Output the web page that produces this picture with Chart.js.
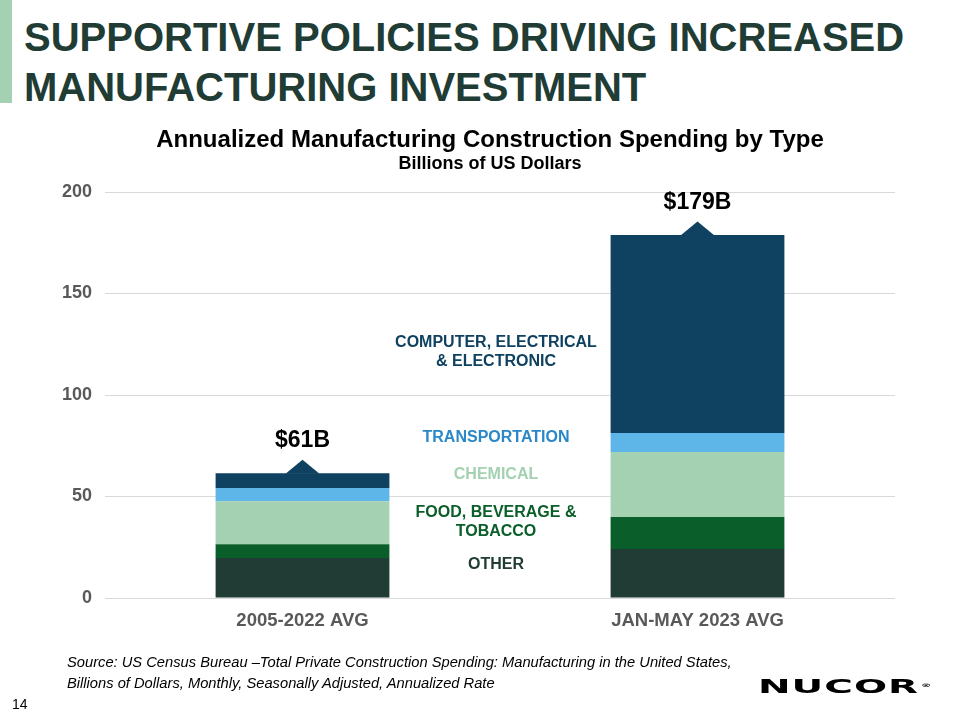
<!DOCTYPE html>
<html>
<head>
<meta charset="utf-8">
<script src="https://cdn.jsdelivr.net/npm/chart.js@4.4.1/dist/chart.umd.min.js"></script>
<style>
  html, body { margin:0; padding:0; background:#fff; }
  body { width:960px; height:720px; position:relative; overflow:hidden; font-family:"Liberation Sans", Arial, sans-serif; }
  #accent { position:absolute; left:0; top:0; width:12px; height:103px; background:#a3d1b1; }
  #headline { position:absolute; left:24px; top:12px; margin:0; font-size:40px; line-height:50px; font-weight:bold; color:#203c34; white-space:nowrap; }
  #wrap { position:absolute; left:0; top:0; width:960px; height:720px; }
  .ctitle { position:absolute; left:0; width:980px; text-align:center; font-weight:bold; color:#000; white-space:nowrap; }
  #ctitle { top:125px; font-size:24px; line-height:28px; }
  #csub { top:152px; font-size:18px; line-height:22px; }
  #source { position:absolute; left:67px; top:651px; font-style:italic; font-size:15px; line-height:21px; color:#000; transform-origin:left top; transform:scaleX(0.98); white-space:nowrap; }
  #page { position:absolute; left:12px; top:696px; font-size:14px; color:#000; }
  #logo { position:absolute; left:758px; top:675px; font-family:"DejaVu Sans", sans-serif; font-weight:bold; font-size:19px; line-height:22px; color:#000; transform-origin:left top; transform:scaleX(2.05); letter-spacing:0.5px; white-space:nowrap; }
  #logo sup { font-size:5px; vertical-align:top; position:relative; top:-1px; letter-spacing:0; margin-left:1px; }
</style>
</head>
<body>
<div id="accent"></div>
<h1 id="headline">SUPPORTIVE POLICIES DRIVING INCREASED<br>MANUFACTURING INVESTMENT</h1>
<div id="wrap"><canvas id="c" width="960" height="720"></canvas></div>
<div class="ctitle" id="ctitle">Annualized Manufacturing Construction Spending by Type</div>
<div class="ctitle" id="csub">Billions of US Dollars</div>
<div id="source">Source: US Census Bureau –Total Private Construction Spending: Manufacturing in the United States,<br>Billions of Dollars, Monthly, Seasonally Adjusted, Annualized Rate</div>
<div id="page">14</div>
<div id="logo">NUCOR<sup>®</sup></div>
<script>
// ---- data ----
const categories = ['2005-2022 AVG', 'JAN-MAY 2023 AVG'];
const seriesNames = ['OTHER', 'FOOD, BEVERAGE & TOBACCO', 'CHEMICAL', 'TRANSPORTATION', 'COMPUTER, ELECTRICAL & ELECTRONIC'];
const otherValues = [19.7, 24.1];
const foodValues = [6.8, 15.8];
const chemicalValues = [21.2, 32.0];
const transportationValues = [6.5, 9.4];
const computerValues = [7.3, 97.5];
const totalLabels = ['$61B', '$179B'];
const yTicks = [0, 50, 100, 150, 200];

const seriesColors = ['#203c34', '#0a5e2a', '#a3d1b1', '#5db5e8', '#0f4160'];
const allValues = [otherValues, foodValues, chemicalValues, transportationValues, computerValues];

// in-chart series labels (text lines, colour, y value of line centre)
const seriesLabelLines = [
  { text: 'COMPUTER, ELECTRICAL', color: '#0f4160', y: 125.6 },
  { text: '& ELECTRONIC', color: '#0f4160', y: 116.3 },
  { text: 'TRANSPORTATION', color: '#2a88c8', y: 78.8 },
  { text: 'CHEMICAL', color: '#a3d1b1', y: 60.6 },
  { text: 'FOOD, BEVERAGE &', color: '#0a5e2a', y: 41.9 },
  { text: 'TOBACCO', color: '#0a5e2a', y: 32.5 },
  { text: 'OTHER', color: '#203c34', y: 16.3 }
];

const FONT = '"Liberation Sans", Arial, sans-serif';

const annotate = {
  id: 'annotate',
  afterDatasetsDraw(chart) {
    const ctx = chart.ctx;
    const x = chart.scales.x, y = chart.scales.y;
    ctx.save();
    categories.forEach((c, i) => {
      let total = 0;
      allValues.forEach(v => total += v[i]);
      const cx = x.getPixelForValue(i);
      const top = y.getPixelForValue(total);
      ctx.fillStyle = seriesColors[4];
      ctx.beginPath();
      ctx.moveTo(cx - 17, top + 0.5);
      ctx.lineTo(cx, top - 13.5);
      ctx.lineTo(cx + 17, top + 0.5);
      ctx.closePath();
      ctx.fill();
      ctx.fillStyle = '#000';
      ctx.font = 'bold 23px ' + FONT;
      ctx.textAlign = 'center';
      ctx.textBaseline = 'middle';
      ctx.fillText(totalLabels[i], cx, top - 32);
    });
    const mid = (x.getPixelForValue(0) + x.getPixelForValue(1)) / 2 - 4;
    ctx.font = 'bold 16px ' + FONT;
    ctx.textAlign = 'center';
    ctx.textBaseline = 'middle';
    seriesLabelLines.forEach(l => {
      ctx.fillStyle = l.color;
      ctx.fillText(l.text, mid, y.getPixelForValue(l.y));
    });
    ctx.restore();
  }
};

new Chart(document.getElementById('c'), {
  type: 'bar',
  data: {
    labels: categories,
    datasets: seriesNames.map((n, i) => ({
      label: n,
      data: allValues[i],
      backgroundColor: seriesColors[i],
      borderWidth: 0,
      barPercentage: 0.44,
      categoryPercentage: 1.0
    }))
  },
  options: {
    responsive: false,
    animation: false,
    devicePixelRatio: 1,
    layout: { padding: { top: 192, left: 0, right: 65, bottom: 82 } },
    plugins: {
      legend: { display: false },
      tooltip: { enabled: false },
      title: { display: false }
    },
    scales: {
      x: {
        stacked: true,
        grid: { display: false, drawTicks: false },
        border: { display: false },
        ticks: { color: '#595959', font: { family: FONT, size: 18.5, weight: 'bold' }, padding: 12 },
        afterFit(s) { s.height = 40; }
      },
      y: {
        stacked: true,
        min: 0, max: 200,
        afterBuildTicks(s) { s.ticks = yTicks.map(v => ({ value: v })); },
        grid: { color: '#d9d9d9', lineWidth: 1, drawTicks: false },
        border: { display: false },
        ticks: { color: '#595959', font: { family: FONT, size: 18, weight: 'bold' }, padding: 13 },
        afterFit(s) { s.width = 105; }
      }
    }
  },
  plugins: [annotate]
});
</script>
</body>
</html>
